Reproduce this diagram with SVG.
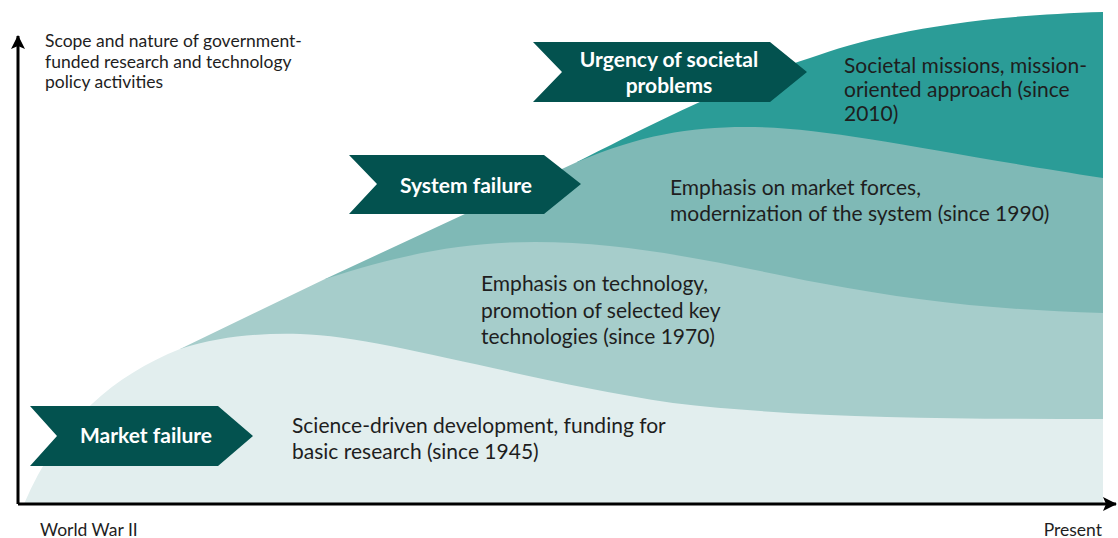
<svg xmlns="http://www.w3.org/2000/svg" width="1118" height="538" viewBox="0 0 1118 538">
<style>
.l4{fill:#2b9c97}
.l3{fill:#7fb9b6}
.l2{fill:#a6cdcb}
.l1{fill:#e2eeee}
.chev{fill:#03524f}
.ct{font-family:Lato,"Open Sans",sans-serif;font-weight:bold;font-size:21px;fill:#ffffff;text-anchor:middle}
.dt{font-family:Lato,"Open Sans",sans-serif;font-size:21px;fill:#1e1e1e}
.at{font-family:Lato,"Open Sans",sans-serif;font-size:17.5px;fill:#1e1e1e}
.axis{stroke:#000;stroke-width:3;fill:none}
</style>
<defs>
<marker id="arr" viewBox="0 0 14 14" refX="13" refY="7" markerWidth="14" markerHeight="14" markerUnits="userSpaceOnUse" orient="auto">
<path d="M0,0 L14,7 L0,14 L3,7 Z" fill="#000"/>
</marker>
</defs>
<g id="layers">
<path id="layer4" class="l4" d="M577,162 C650,125 740,80 810,58 C870,36 960,16 1103,12 L1103,504 L577,504 Z"/>
<path id="layer3" class="l3" d="M325,279 L577,162 C640,135 690,127 745,127 C830,127 920,150 1103,178 L1103,504 L325,504 Z"/>
<path id="layer2" class="l2" d="M180,349 L325,279 C400,255 460,242 535,242 C640,242 740,268 820,283 C920,302 1000,310 1103,313 L1103,504 L180,504 Z"/>
<path id="layer1" class="l1" d="M24,504 C60,420 115,375 180,349 C220,336 260,333 300,334 C380,336 520,380 673,403 C800,418 950,419 1103,419 L1103,504 Z"/>
</g>
<g id="connectors">
<line class="axis" x1="18" y1="504" x2="18" y2="36" marker-end="url(#arr)"/>
<line class="axis" x1="18" y1="504" x2="1116" y2="504" marker-end="url(#arr)"/>
</g>
<g id="axis-label-y">
<text class="at" x="45" y="47">Scope and nature of government-</text>
<text class="at" x="45" y="68">funded research and technology</text>
<text class="at" x="45" y="88">policy activities</text>
</g>
<g id="axis-label-start"><text class="at" x="40" y="536">World War II</text></g>
<g id="axis-label-end"><text class="at" x="1102" y="536" text-anchor="end">Present</text></g>
<g id="chevron-urgency">
<polygon class="chev" points="533,42 770,42 807,72 770,102 533,102 562,72"/>
<text class="ct" x="669" y="67">Urgency of societal</text>
<text class="ct" x="669" y="93">problems</text>
</g>
<g id="chevron-system">
<polygon class="chev" points="349,155 544,155 581,184 544,214 349,214 377,184"/>
<text class="ct" x="466" y="193">System failure</text>
</g>
<g id="chevron-market">
<polygon class="chev" points="30,406 218,406 253,436 218,466 30,466 57,436"/>
<text class="ct" x="146" y="443">Market failure</text>
</g>
<g id="label-2010">
<text class="dt" x="844" y="73">Societal missions, mission-</text>
<text class="dt" x="844" y="97">oriented approach (since</text>
<text class="dt" x="844" y="121">2010)</text>
</g>
<g id="label-1990">
<text class="dt" x="670" y="195">Emphasis on market forces,</text>
<text class="dt" x="670" y="221">modernization of the system (since 1990)</text>
</g>
<g id="label-1970">
<text class="dt" x="481" y="291">Emphasis on technology,</text>
<text class="dt" x="481" y="318">promotion of selected key</text>
<text class="dt" x="481" y="344">technologies (since 1970)</text>
</g>
<g id="label-1945">
<text class="dt" x="292" y="433">Science-driven development, funding for</text>
<text class="dt" x="292" y="459">basic research (since 1945)</text>
</g>
</svg>
